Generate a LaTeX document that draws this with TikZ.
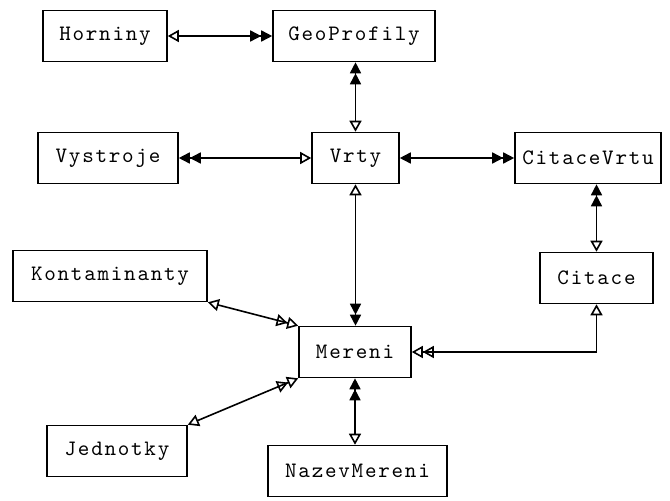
\documentclass[tikz,border=0pt]{standalone}
\usepackage{fontspec}
\setmonofont{lmmono10-regular}[Extension=.otf, LetterSpace=8]
\usetikzlibrary{arrows.meta}

\tikzset{
  ft/.tip={Triangle[length=11pt,width=11pt]},
  ot/.tip={Triangle[open,length=11pt,width=12pt]},
  tbl/.style={draw, line width=1.6pt, minimum height=51pt, inner sep=0pt,
    font=\fontsize{22}{24}\selectfont\ttfamily},
  rel/.style={line width=1.6pt, {ot[]}-{ft[] ft[]}},
  relf/.style={line width=1.6pt, {ft[]}-{ft[] ft[]}},
  relo/.style={line width=1.6pt, {ot[]}-{ot[] ot[]}},
}

\begin{document}
\begin{tikzpicture}[x=1pt, y=-1pt]
  \useasboundingbox (0,0) rectangle (670,501);

  % tables
  \node[tbl, minimum width=124pt] (horniny) at (105,36) {Horniny};
  \node[tbl, minimum width=162pt] (geo) at (354,36) {GeoProfily};
  \node[tbl, minimum width=140pt] (vystroje) at (108,158) {Vystroje};
  \node[tbl, minimum width=87pt] (vrty) at (355.5,158) {Vrty};
  \node[tbl, minimum width=146pt] (citvrtu) at (588,158) {CitaceVrtu};
  \node[tbl, minimum width=194pt] (kont) at (110,276) {Kontaminanty};
  \node[tbl, minimum width=113pt] (citace) at (596.5,278) {Citace};
  \node[tbl, minimum width=112pt] (mereni) at (355,352) {Mereni};
  \node[tbl, minimum width=140pt] (jedn) at (117,451) {Jednotky};
  \node[tbl, minimum width=179pt] (nazev) at (357.5,471) {NazevMereni};

  % relations
  \draw[rel] (horniny) -- (geo);
  \draw[rel] (vrty.north) -- (vrty.north |- geo.south);
  \draw[rel] (vrty) -- (vystroje);
  \draw[relf] (vrty) -- (citvrtu);
  \draw[rel] (vrty.south) -- (vrty.south |- mereni.north);
  \draw[rel] (nazev.north -| mereni.south) -- (mereni.south);
  \draw[rel] (citace.north) -- (citace.north |- citvrtu.south);
  \draw[relo] (kont.south east) -- (mereni.north west);
  \draw[relo] (jedn.north east) -- (mereni.south west);
  \draw[relo] (citace.south) |- (mereni.east);
\end{tikzpicture}
\end{document}
